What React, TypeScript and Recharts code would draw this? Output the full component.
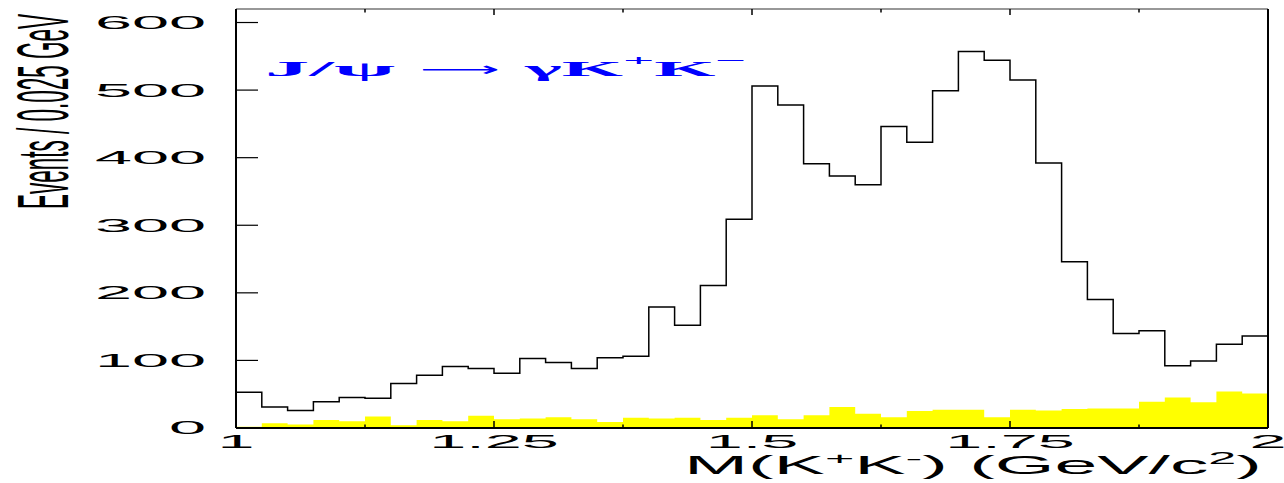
import { ComposedChart, Line, Area, XAxis, YAxis } from 'recharts';

// bin low edges, 0.025 GeV wide
const binLow = [
  1.0, 1.025, 1.05, 1.075, 1.1, 1.125, 1.15, 1.175, 1.2, 1.225,
  1.25, 1.275, 1.3, 1.325, 1.35, 1.375, 1.4, 1.425, 1.45, 1.475,
  1.5, 1.525, 1.55, 1.575, 1.6, 1.625, 1.65, 1.675, 1.7, 1.725,
  1.75, 1.775, 1.8, 1.825, 1.85, 1.875, 1.9, 1.925, 1.95, 1.975,
];
const xMax = 2;

const events = [
  53, 31, 26, 39, 45, 44, 66, 78, 91, 88,
  81, 103, 97, 88, 104, 106, 179, 152, 211, 309,
  506, 478, 391, 373, 360, 446, 423, 499, 557, 544,
  515, 392, 246, 190, 140, 144, 92, 99, 124, 136,
];

const background = [
  2, 7, 5, 12, 10, 17, 4, 12, 10, 18,
  13, 14, 16, 13, 9, 15, 14, 15, 12, 15,
  19, 13, 19, 31, 21, 16, 25, 27, 27, 16,
  27, 26, 28, 29, 29, 39, 45, 38, 54, 51,
];

const xTicks = [1, 1.125, 1.25, 1.375, 1.5, 1.625, 1.75, 1.875, 2];
const yTicks = [0, 100, 200, 300, 400, 500, 600];

// step charts need a closing point at the upper edge
const data = [
  ...binLow.map((x, i) => ({ x, events: events[i], bkg: background[i] })),
  { x: xMax, events: events[events.length - 1], bkg: background[background.length - 1] },
];

const SANS = 'Liberation Sans, Arial, Helvetica, sans-serif';
const STRETCH = 3.7; // the original text is drawn very wide

const isMajor = (v: number) => Math.abs(v * 4 - Math.round(v * 4)) < 1e-6;

function BottomTick({ x, y, payload }: any) {
  const v = payload.value as number;
  const major = isMajor(v);
  return (
    <g>
      <line x1={x} y1={y} x2={x} y2={y - (major ? 7 : 3.5)} stroke="#000" strokeWidth={1.5} />
      {major && (
        <text
          transform={`translate(${x},${y + 20}) scale(${STRETCH},1)`}
          textAnchor="middle"
          fontSize={18}
          fontFamily={SANS}
          fill="#000"
        >
          {String(v)}
        </text>
      )}
    </g>
  );
}

function TopTick({ x, y, payload }: any) {
  const major = isMajor(payload.value);
  return <line x1={x} y1={y} x2={x} y2={y + (major ? 6 : 3.5)} stroke="#000" strokeWidth={1.5} />;
}

function LeftTick({ x, y, payload }: any) {
  return (
    <g>
      <line x1={x} y1={y} x2={x + 22} y2={y} stroke="#000" strokeWidth={1.2} />
      <text
        transform={`translate(${x - 30},${y}) scale(${STRETCH},1)`}
        textAnchor="end"
        dy="0.36em"
        fontSize={18}
        fontFamily={SANS}
        fill="#000"
      >
        {payload.value}
      </text>
    </g>
  );
}

function RightTick({ x, y }: any) {
  return <line x1={x} y1={y} x2={x - 22} y2={y} stroke="#000" strokeWidth={1.2} />;
}

export default function App() {
  return (
    <div style={{ position: 'absolute', left: 0, top: 0, width: 1284, height: 483, background: '#fff' }}>
      <ComposedChart width={1284} height={483} data={data} margin={{ top: 0, right: 0, bottom: 0, left: 0 }}>
        <XAxis
          xAxisId="b"
          dataKey="x"
          type="number"
          domain={[1, 2]}
          ticks={xTicks}
          interval={0}
          height={55}
          tickSize={0}
          tickMargin={0}
          tickLine={false}
          axisLine={{ stroke: '#000', strokeWidth: 2 }}
          tick={<BottomTick />}
        />
        <XAxis
          xAxisId="t"
          orientation="top"
          dataKey="x"
          type="number"
          domain={[1, 2]}
          ticks={xTicks}
          interval={0}
          height={9}
          tickSize={0}
          tickMargin={0}
          tickLine={false}
          axisLine={{ stroke: '#333', strokeWidth: 1.2 }}
          tick={<TopTick />}
        />
        <YAxis
          yAxisId="l"
          type="number"
          domain={[0, 620]}
          ticks={yTicks}
          interval={0}
          width={236}
          tickSize={0}
          tickMargin={0}
          tickLine={false}
          axisLine={{ stroke: '#000', strokeWidth: 2 }}
          tick={<LeftTick />}
        />
        <YAxis
          yAxisId="r"
          orientation="right"
          type="number"
          domain={[0, 620]}
          ticks={yTicks}
          interval={0}
          width={16}
          tickSize={0}
          tickMargin={0}
          tickLine={false}
          axisLine={{ stroke: '#000', strokeWidth: 2 }}
          tick={<RightTick />}
        />
        <Area
          xAxisId="b"
          yAxisId="l"
          type="stepAfter"
          dataKey="bkg"
          stroke="none"
          fill="#ffff00"
          fillOpacity={1}
          isAnimationActive={false}
        />
        <Line
          xAxisId="b"
          yAxisId="l"
          type="stepAfter"
          dataKey="events"
          stroke="#000"
          strokeWidth={1.5}
          dot={false}
          isAnimationActive={false}
        />
      </ComposedChart>
      <svg
        width={1284}
        height={483}
        style={{ position: 'absolute', left: 0, top: 0, pointerEvents: 'none' }}
      >
        {/* y axis title, narrow font */}
        <text
          transform="translate(68,209) rotate(-90)"
          fontSize={72}
          fontFamily={SANS}
          textLength={195}
          lengthAdjust="spacingAndGlyphs"
          fill="#000"
        >
          Events / 0.025 GeV
        </text>
        {/* x axis title */}
        <text
          x={684}
          y={474}
          fontSize={26}
          fontFamily={SANS}
          textLength={578}
          lengthAdjust="spacingAndGlyphs"
          fill="#000"
        >
          M(K
          <tspan fontSize={17} dy={-10}>+</tspan>
          <tspan dy={10}>K</tspan>
          <tspan fontSize={17} dy={-10}>-</tspan>
          <tspan dy={10}>) (GeV/c</tspan>
          <tspan fontSize={17} dy={-10}>2</tspan>
          <tspan dy={10}>)</tspan>
        </text>
        {/* decay label */}
        <g fill="#0000ff" fontFamily="Liberation Serif, Times New Roman, serif" fontWeight="bold" fontSize={20}>
          <text x={265} y={76} textLength={130} lengthAdjust="spacingAndGlyphs">
            J/ψ
          </text>
          <text x={420} y={76} textLength={80} lengthAdjust="spacingAndGlyphs" fontFamily="DejaVu Sans, sans-serif" fontWeight="normal">
            ⟶
          </text>
          <text x={525} y={76} textLength={222} lengthAdjust="spacingAndGlyphs">
            γK
            <tspan fontSize={14} dy={-11}>+</tspan>
            <tspan dy={11}>K</tspan>
            <tspan fontSize={14} dy={-11}>−</tspan>
          </text>
        </g>
      </svg>
    </div>
  );
}
